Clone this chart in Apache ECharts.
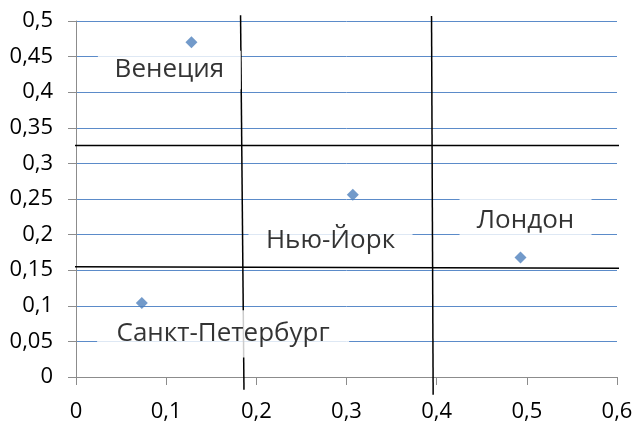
<!DOCTYPE html>
<html>
<head>
<meta charset="utf-8">
<script src="https://cdn.jsdelivr.net/npm/echarts@6/dist/echarts.min.js"></script>
<style>
  html, body { margin: 0; padding: 0; background: #ffffff; }
  #chart { width: 638px; height: 425px; }
</style>
</head>
<body>
<div id="chart"></div>
<script>
// City names and their (x, y) positions
var cities = ['Венеция', 'Нью-Йорк', 'Лондон', 'Санкт-Петербург'];
var xValues = [0.128, 0.307, 0.493, 0.073];
var yValues = [0.470, 0.256, 0.168, 0.104];

// Axis tick labels (decimal comma)
var xTickLabels = ['0', '0,1', '0,2', '0,3', '0,4', '0,5', '0,6'];
var yTickLabels = ['0', '0,05', '0,1', '0,15', '0,2', '0,25', '0,3', '0,35', '0,4', '0,45', '0,5'];

// Hand-drawn dividing lines, given as [x, y] endpoints in axis units
var divider1 = [[0.1825, 0.508], [0.1863, -0.018]];
var divider2 = [[0.3943, 0.507], [0.3961, -0.025]];
var divider3 = [[-0.030, 0.325], [0.623, 0.325]];
var divider4 = [[-0.0255, 0.155], [0.623, 0.1527]];

// Label box styling per city: [shiftX, shiftY, boxWidth, padTop, padBottom]
// shift = distance from the marker centre to the centre of the white box
var labelBoxes = [
  [-22, 27.7, 143, 0, 14.6],
  [-22.3, 45.6, 164, 0.3, 15.6],
  [5, -36.3, 132, 9, 15],
  [81.3, 31, 252, 9.3, 14]
];

var FONT = 'Open Sans';
var MARKER = 12;

var points = cities.map(function (name, i) {
  var b = labelBoxes[i];
  return {
    name: name,
    value: [xValues[i], yValues[i]],
    label: {
      // position is relative to the marker's bounding box top-left corner
      position: [MARKER / 2 + b[0], MARKER / 2 + b[1]],
      width: b[2],
      padding: [b[3], 0, b[4], 0]
    }
  };
});

function dividerSeries(data) {
  return {
    type: 'line',
    data: data,
    clip: false,
    symbol: 'none',
    silent: true,
    z: 3,
    lineStyle: { color: '#000000', width: 1.5 },
    animation: false
  };
}

var chart = echarts.init(document.getElementById('chart'), null, { renderer: 'canvas' });
chart.setOption({
  backgroundColor: '#ffffff',
  animation: false,
  grid: { left: 76, right: 21, top: 21, bottom: 48, containLabel: false },
  xAxis: {
    type: 'value',
    min: 0,
    max: 0.6,
    interval: 0.1,
    axisLine: { show: true, lineStyle: { color: '#8c8c8c', width: 1 } },
    axisTick: { show: true, length: 8, lineStyle: { color: '#8c8c8c' } },
    splitLine: { show: false },
    axisLabel: {
      margin: 24,
      fontFamily: FONT,
      fontSize: 22,
      color: '#000000',
      formatter: function (v, idx) { return xTickLabels[idx]; }
    }
  },
  yAxis: {
    type: 'value',
    min: 0,
    max: 0.5,
    interval: 0.05,
    axisLine: { show: true, lineStyle: { color: '#8c8c8c', width: 1 } },
    axisTick: { show: true, length: 8, lineStyle: { color: '#8c8c8c' } },
    splitLine: { show: true, lineStyle: { color: '#5b8bc9', width: 1 } },
    axisLabel: {
      margin: 23,
      fontFamily: FONT,
      fontSize: 22,
      color: '#000000',
      formatter: function (v, idx) { return yTickLabels[idx]; }
    }
  },
  series: [
    dividerSeries(divider1),
    dividerSeries(divider2),
    dividerSeries(divider3),
    dividerSeries(divider4),
    {
      type: 'scatter',
      z: 5,
      symbol: 'diamond',
      symbolSize: MARKER,
      itemStyle: { color: '#4F81BD' },
      data: points,
      label: {
        show: true,
        align: 'center',
        verticalAlign: 'middle',
        formatter: '{b}',
        fontFamily: FONT,
        fontSize: 26,
        lineHeight: 24,
        color: '#000000',
        backgroundColor: '#ffffff'
      },
      labelLayout: { hideOverlap: false }
    }
  ]
});
</script>
</body>
</html>
